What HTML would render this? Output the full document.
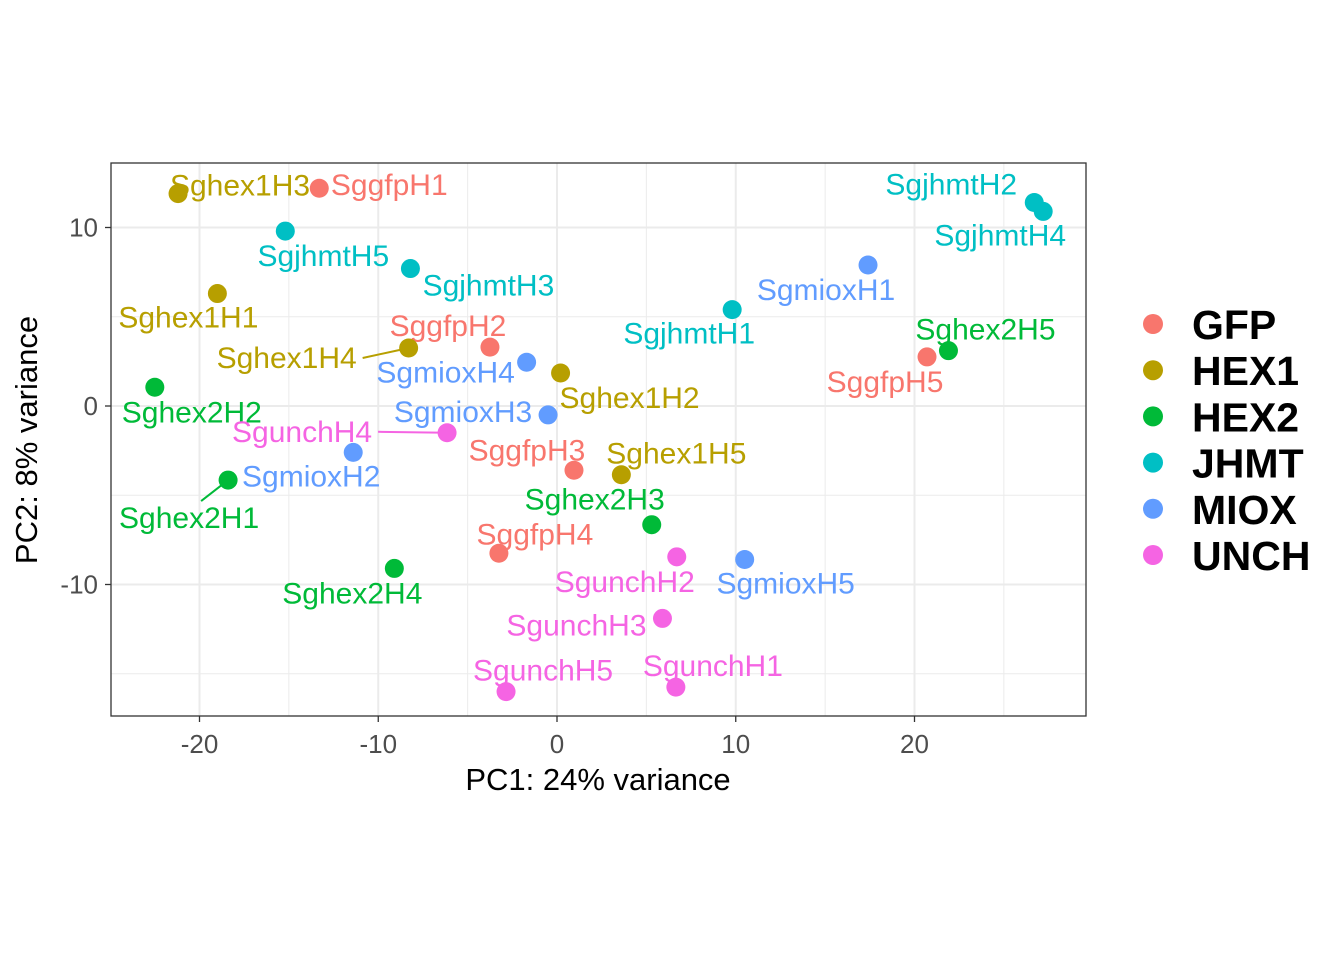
<!DOCTYPE html>
<html><head><meta charset="utf-8"><style>
body{margin:0;background:#fff;}
svg text{font-family:"Liberation Sans",Arial,sans-serif;}
</style></head><body>
<svg id="chart" width="1344" height="960" xmlns="http://www.w3.org/2000/svg">
<rect width="1344" height="960" fill="#fff"/>
<g id="grid"></g>
<g id="marks"></g>
<rect x="111" y="163" width="975" height="553" fill="none" stroke="#333" stroke-width="1.3"/>
<g id="axes"></g>
<text x="598" y="790" text-anchor="middle" font-size="31" fill="#000">PC1: 24% variance</text>
<text transform="translate(37,440) rotate(-90)" text-anchor="middle" font-size="31" fill="#000">PC2: 8% variance</text>
<g id="legend"></g>
</svg>
<script>
const names=["SggfpH1","Sghex1H3","SgjhmtH5","SgjhmtH3","Sghex1H1","SggfpH2","Sghex1H4","SgmioxH4","Sghex1H2","Sghex2H2","SgmioxH3","SgunchH4","SgmioxH2","Sghex2H1","SggfpH3","Sghex1H5","Sghex2H3","SggfpH4","Sghex2H4","SgunchH2","SgmioxH5","SgunchH3","SgunchH5","SgunchH1","SgjhmtH1","SgmioxH1","SgjhmtH2","SgjhmtH4","SggfpH5","Sghex2H5"];
const groups=["GFP","HEX1","JHMT","JHMT","HEX1","GFP","HEX1","MIOX","HEX1","HEX2","MIOX","UNCH","MIOX","HEX2","GFP","HEX1","HEX2","GFP","HEX2","UNCH","MIOX","UNCH","UNCH","UNCH","JHMT","MIOX","JHMT","JHMT","GFP","HEX2"];
const pc1=[-13.3,-21.2,-15.2,-8.2,-19.0,-3.75,-8.3,-1.7,0.2,-22.5,-0.5,-6.15,-11.4,-18.4,0.95,3.6,5.3,-3.25,-9.1,6.7,10.5,5.9,-2.85,6.65,9.8,17.4,26.7,27.2,20.7,21.9];
const pc2=[12.2,11.9,9.8,7.7,6.3,3.3,3.25,2.45,1.85,1.05,-0.5,-1.5,-2.6,-4.15,-3.6,-3.85,-6.65,-8.25,-9.1,-8.45,-8.6,-11.9,-16.0,-15.75,5.4,7.9,11.4,10.9,2.75,3.1];
const categories=["GFP","HEX1","HEX2","JHMT","MIOX","UNCH"];
const xTicks=[-20,-10,0,10,20];
const yTicks=[-10,0,10];
const colors={GFP:"#F8766D",HEX1:"#B79F00",HEX2:"#00BA38",JHMT:"#00BFC4",MIOX:"#619CFF",UNCH:"#F564E3"};
const labelDx=[72,64,40,80,-27,-40,-120,-79,71,39,-83,-143,-40,-37,-45,57,-55,38,-40,-50,43,-84,39,39,-41,-40,-81,-41,-40,39];
const labelDy=[-3,-8,25,17,24,-21,10,10,25,25,-3,-1,24,38,-20,-21,-25,-19,25,25,24,7,-21,-21,24,25,-18,24,25,-21];
const X=v=>557+v*17.875, Y=v=>406-v*17.85;
const NS="http://www.w3.org/2000/svg";
function mk(tag,attrs,parent){const e=document.createElementNS(NS,tag);for(const k in attrs)e.setAttribute(k,attrs[k]);parent.appendChild(e);return e;}
const grid=document.getElementById('grid'),marks=document.getElementById('marks'),axes=document.getElementById('axes'),legend=document.getElementById('legend');
mk('rect',{x:111,y:163,width:975,height:553,fill:'#fff'},grid);
for(let v=-25;v<=25;v+=10){if(X(v)>111&&X(v)<1086){const l=mk('line',{x1:X(v),x2:X(v),y1:163,y2:716,stroke:'#EBEBEB','stroke-width':1},grid);}}
for(let v=-15;v<=15;v+=10){if(Y(v)>163&&Y(v)<716){const l=mk('line',{x1:111,x2:1086,y1:Y(v),y2:Y(v),stroke:'#EBEBEB','stroke-width':1},grid);}}
xTicks.forEach(v=>{const l=mk('line',{x1:X(v),x2:X(v),y1:163,y2:716,stroke:'#EBEBEB','stroke-width':2},grid);
 const t=mk('line',{x1:X(v),x2:X(v),y1:716,y2:722,stroke:'#333','stroke-width':1.3},axes);
 const tx=mk('text',{x:X(v),y:753,'text-anchor':'middle','font-size':26,fill:'#4D4D4D'},axes);tx.textContent=v;});
yTicks.forEach(v=>{const l=mk('line',{x1:111,x2:1086,y1:Y(v),y2:Y(v),stroke:'#EBEBEB','stroke-width':2},grid);
 const t=mk('line',{x1:105,x2:111,y1:Y(v),y2:Y(v),stroke:'#333','stroke-width':1.3},axes);
 const tx=mk('text',{x:98,y:Y(v)+9,'text-anchor':'end','font-size':26,fill:'#4D4D4D'},axes);tx.textContent=v;});
names.forEach((n,i)=>{const px=X(pc1[i]),py=Y(pc2[i]),c=colors[groups[i]];
 const lx=px+labelDx[i],ly=py+labelDy[i];
 if(Math.abs(labelDx[i])>100||Math.abs(labelDy[i])>30){
  const ex=labelDx[i]<-100?lx+74:lx+10, ey=labelDx[i]<-100?ly:ly-17;
  const s=mk('line',{x1:ex,y1:ey,x2:px,y2:py,stroke:c,'stroke-width':2},marks);}
 const p=mk('circle',{cx:px,cy:py,r:9.5,fill:c},marks);
 const t=mk('text',{x:lx-2,y:ly+10,'text-anchor':'middle','font-size':30,fill:c},marks);t.textContent=n;});
categories.forEach((g,i)=>{const y=324+i*46.2;
 const c=mk('circle',{cx:1153,cy:y,r:10,fill:colors[g]},legend);
 const t=mk('text',{x:1192,y:y+15,'font-size':41,'font-weight':'bold',fill:'#000'},legend);t.textContent=g;});
</script>
</body></html>
